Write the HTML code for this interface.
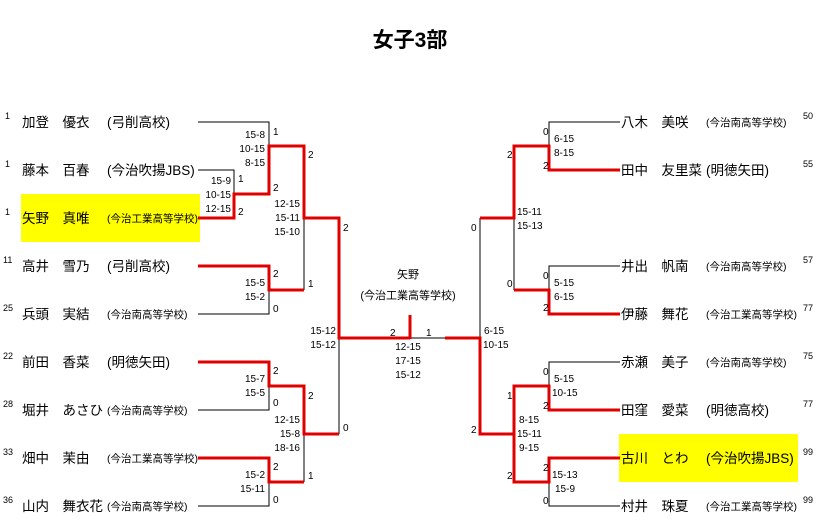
<!DOCTYPE html>
<html><head><meta charset="utf-8"><style>
body{margin:0;background:#fff;width:819px;height:531px;overflow:hidden}
svg{display:block}
text{font-family:"Liberation Sans","Noto Sans CJK JP",sans-serif;fill:#000}
.s{font-size:10px}
.n{font-size:13.5px}
.sm{font-size:10.5px}
.sd{font-size:9px}
</style></head><body>
<svg width="819" height="531" xmlns="http://www.w3.org/2000/svg">
<rect x="21" y="194" width="179" height="48" fill="#ffff00"/>
<rect x="619" y="434" width="179" height="48" fill="#ffff00"/>
<text x="410" y="47" font-size="21" font-weight="bold" text-anchor="middle">女子3部</text>

<g fill="none" stroke="#000" stroke-width="1">
<!-- left black -->
<polyline points="198,122 269,122 269,146"/>
<polyline points="198,170 234,170 234,194"/>
<line x1="304" y1="218" x2="304" y2="290"/>
<polyline points="198,314 269,314 269,290"/>
<line x1="339" y1="338" x2="339" y2="434"/>
<polyline points="198,410 269,410 269,386"/>
<polyline points="198,506 269,506 269,482"/>
<line x1="304" y1="434" x2="304" y2="482"/>
<line x1="410" y1="338" x2="445" y2="338"/>
<!-- right black -->
<polyline points="620,122 549,122 549,146"/>
<line x1="514" y1="218" x2="514" y2="290"/>
<line x1="480" y1="218" x2="480" y2="338"/>
<polyline points="620,266 549,266 549,290"/>
<polyline points="620,362 549,362 549,386"/>
<polyline points="620,506 549,506 549,482"/>
</g>
<g fill="none" stroke="#e00000" stroke-width="3" stroke-linejoin="miter">
<polyline points="198,218 234,218 234,194 269,194 269,146 304,146 304,218 339,218 339,338 410,338"/>
<line x1="410" y1="339" x2="410" y2="315"/>
<polyline points="198,266 269,266 269,290 304,290"/>
<polyline points="198,362 269,362 269,386 304,386 304,434 339,434"/>
<polyline points="198,458 269,458 269,482 304,482"/>
<polyline points="445,338 480,338 480,434 514,434"/>
<polyline points="620,170 549,170 549,146 514,146 514,218 480,218"/>
<polyline points="620,314 549,314 549,290 514,290"/>
<polyline points="620,410 549,410 549,386 514,386 514,482 549,482 549,458 620,458"/>
</g>

<!-- left names -->
<g>
<text class="sd" x="5" y="119">1</text><text class="n" x="22" y="127">加登　優衣</text><text class="n" x="107" y="127">(弓削高校)</text>
<text class="sd" x="5" y="167">1</text><text class="n" x="22" y="175">藤本　百春</text><text class="n" x="107" y="175">(今治吹揚JBS)</text>
<text class="sd" x="5" y="215">1</text><text class="n" x="22" y="223">矢野　真唯</text><text class="sm" x="107" y="222">(今治工業高等学校)</text>
<text class="sd" x="3" y="263">11</text><text class="n" x="22" y="271">高井　雪乃</text><text class="n" x="107" y="271">(弓削高校)</text>
<text class="sd" x="3" y="311">25</text><text class="n" x="22" y="319">兵頭　実結</text><text class="sm" x="107" y="318">(今治南高等学校)</text>
<text class="sd" x="3" y="359">22</text><text class="n" x="22" y="367">前田　香菜</text><text class="n" x="107" y="367">(明徳矢田)</text>
<text class="sd" x="3" y="407">28</text><text class="n" x="22" y="415">堀井　あさひ</text><text class="sm" x="107" y="414">(今治南高等学校)</text>
<text class="sd" x="3" y="455">33</text><text class="n" x="22" y="463">畑中　茉由</text><text class="sm" x="107" y="462">(今治工業高等学校)</text>
<text class="sd" x="3" y="503">36</text><text class="n" x="22" y="511">山内　舞衣花</text><text class="sm" x="107" y="510">(今治南高等学校)</text>
</g>
<!-- right names -->
<g>
<text class="n" x="621" y="127">八木　美咲</text><text class="sm" x="706" y="126">(今治南高等学校)</text><text class="sd" x="803" y="119">50</text>
<text class="n" x="621" y="175">田中　友里菜</text><text class="n" x="706" y="175">(明徳矢田)</text><text class="sd" x="803" y="167">55</text>
<text class="n" x="621" y="271">井出　帆南</text><text class="sm" x="706" y="270">(今治南高等学校)</text><text class="sd" x="803" y="263">57</text>
<text class="n" x="621" y="319">伊藤　舞花</text><text class="sm" x="706" y="318">(今治工業高等学校)</text><text class="sd" x="803" y="311">77</text>
<text class="n" x="621" y="367">赤瀬　美子</text><text class="sm" x="706" y="366">(今治南高等学校)</text><text class="sd" x="803" y="359">75</text>
<text class="n" x="621" y="415">田窪　愛菜</text><text class="n" x="706" y="415">(明徳高校)</text><text class="sd" x="803" y="407">77</text>
<text class="n" x="621" y="463">古川　とわ</text><text class="n" x="706" y="463">(今治吹揚JBS)</text><text class="sd" x="803" y="455">99</text>
<text class="n" x="621" y="511">村井　珠夏</text><text class="sm" x="706" y="510">(今治工業高等学校)</text><text class="sd" x="803" y="503">99</text>
</g>

<!-- left scores -->
<g class="s" text-anchor="end">
<text x="231" y="184">15-9</text><text x="231" y="198">10-15</text><text x="231" y="212">12-15</text>
<text x="265" y="138">15-8</text><text x="265" y="152">10-15</text><text x="265" y="166">8-15</text>
<text x="265" y="286">15-5</text><text x="265" y="300">15-2</text>
<text x="300" y="207">12-15</text><text x="300" y="221">15-11</text><text x="300" y="235">15-10</text>
<text x="336" y="334">15-12</text><text x="336" y="348">15-12</text>
<text x="265" y="382">15-7</text><text x="265" y="396">15-5</text>
<text x="300" y="423">12-15</text><text x="300" y="437">15-8</text><text x="300" y="451">18-16</text>
<text x="265" y="478">15-2</text><text x="265" y="492">15-11</text>
</g>
<g class="s">
<text x="238" y="182">1</text><text x="238" y="215">2</text>
<text x="273" y="135">1</text><text x="273" y="191">2</text>
<text x="273" y="277">2</text><text x="273" y="312">0</text>
<text x="308" y="158">2</text><text x="308" y="287">1</text>
<text x="343" y="231">2</text><text x="343" y="431">0</text>
<text x="273" y="374">2</text><text x="273" y="406">0</text>
<text x="273" y="470">2</text><text x="273" y="503">0</text>
<text x="308" y="399">2</text><text x="308" y="479">1</text>
<text x="390" y="336">2</text><text x="426" y="336">1</text>
</g>
<g class="s" text-anchor="middle">
<text x="408" y="350">12-15</text><text x="408" y="364">17-15</text><text x="408" y="378">15-12</text>
</g>
<text x="408" y="278" font-size="11" text-anchor="middle">矢野</text>
<text x="408" y="299" font-size="11" text-anchor="middle">(今治工業高等学校)</text>

<!-- right scores -->
<g class="s">
<text x="484" y="334">6-15</text><text x="483" y="348">10-15</text>
<text x="517" y="215">15-11</text><text x="517" y="229">15-13</text>
<text x="554" y="142">6-15</text><text x="554" y="156">8-15</text>
<text x="554" y="286">5-15</text><text x="554" y="300">6-15</text>
<text x="519" y="423">8-15</text><text x="517" y="437">15-11</text><text x="519" y="451">9-15</text>
<text x="554" y="382">5-15</text><text x="552" y="396">10-15</text>
<text x="552" y="478">15-13</text><text x="555" y="492">15-9</text>
<text x="471" y="231">0</text><text x="471" y="433">2</text>
<text x="507" y="158">2</text><text x="507" y="287">0</text>
<text x="507" y="399">1</text><text x="507" y="479">2</text>
<text x="543" y="135">0</text><text x="543" y="169">2</text>
<text x="543" y="279">0</text><text x="543" y="311">2</text>
<text x="543" y="375">0</text><text x="543" y="409">2</text>
<text x="543" y="471">2</text><text x="543" y="504">0</text>
</g>
</svg>
</body></html>
